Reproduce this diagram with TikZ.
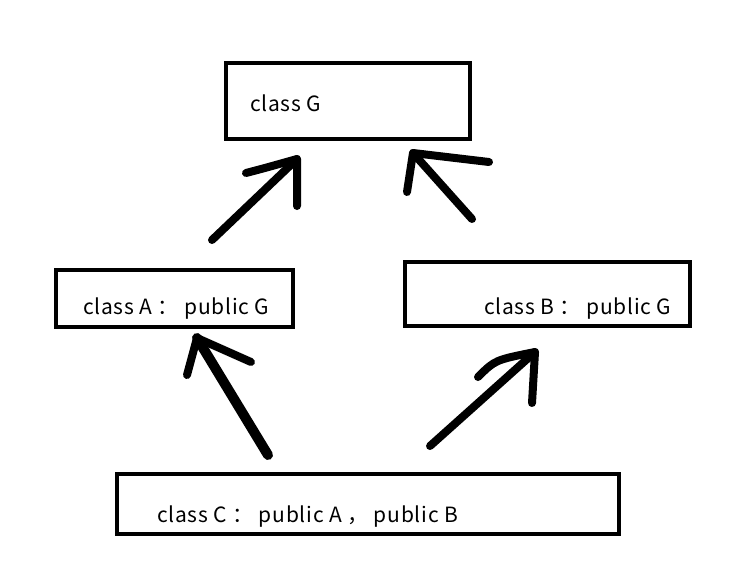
\documentclass[tikz,border=0pt]{standalone}
\usepackage{fontspec}
\newfontfamily\cjk[LetterSpace=3.5]{Noto Sans CJK SC}
\begin{document}
\begin{tikzpicture}[x=1pt,y=-1pt,
  box/.style={draw=black,line width=4pt},
  lbl/.style={anchor=base west,inner sep=0pt,font=\cjk\fontsize{21}{24}\selectfont},
  stroke/.style={line width=8pt,line cap=round,line join=round}]
\useasboundingbox (0,0) rectangle (730,570);
% boxes
\draw[box] (226,63) rectangle (470,139);
\draw[box] (56,270) rectangle (293,327);
\draw[box] (405,262) rectangle (690,326);
\draw[box] (117,474) rectangle (619,534);
% labels
\node[lbl] (tG) at (250,111) {class G};
\node[lbl] (tA) at (83,314) {class A ： public G};
\node[lbl] (tB) at (484,314) {class B ： public G};
\node[lbl] (tC) at (157,522) {class C ： public A ， public B};
% arrow A -> G
\coordinate (a1s) at (212,240);
\coordinate (a1t) at (297,159);
\coordinate (a1h1) at (246,173);
\coordinate (a1h2) at (297,206);
\draw[stroke] (a1s) -- (a1t);
\draw[stroke] (a1h1) .. controls (265,168) .. (a1t) -- (a1h2);
% arrow B -> G
\coordinate (a2s) at (472,219);
\coordinate (a2t) at (413,153);
\coordinate (a2h1) at (489,162);
\coordinate (a2h2) at (407,192);
\draw[stroke] (a2s) -- (a2t);
\draw[stroke] (a2h1) -- (a2t) -- (a2h2);
% arrow C -> A
\coordinate (a3s) at (268,455);
\coordinate (a3t) at (197,338);
\coordinate (a3h1) at (251,362);
\coordinate (a3h2) at (187,375);
\draw[stroke,line width=10pt] (a3s) -- (a3t);
\draw[stroke] (a3h1) -- (a3t) -- (a3h2);
% arrow C -> B
\coordinate (a4s) at (430,446);
\coordinate (a4t) at (535,352);
\coordinate (a4h1) at (478,377);
\coordinate (a4h2) at (532,403);
\draw[stroke] (a4s) -- (a4t);
\draw[stroke] (a4h1) .. controls (495,360) .. (a4t) -- (a4h2);
\end{tikzpicture}
\end{document}
